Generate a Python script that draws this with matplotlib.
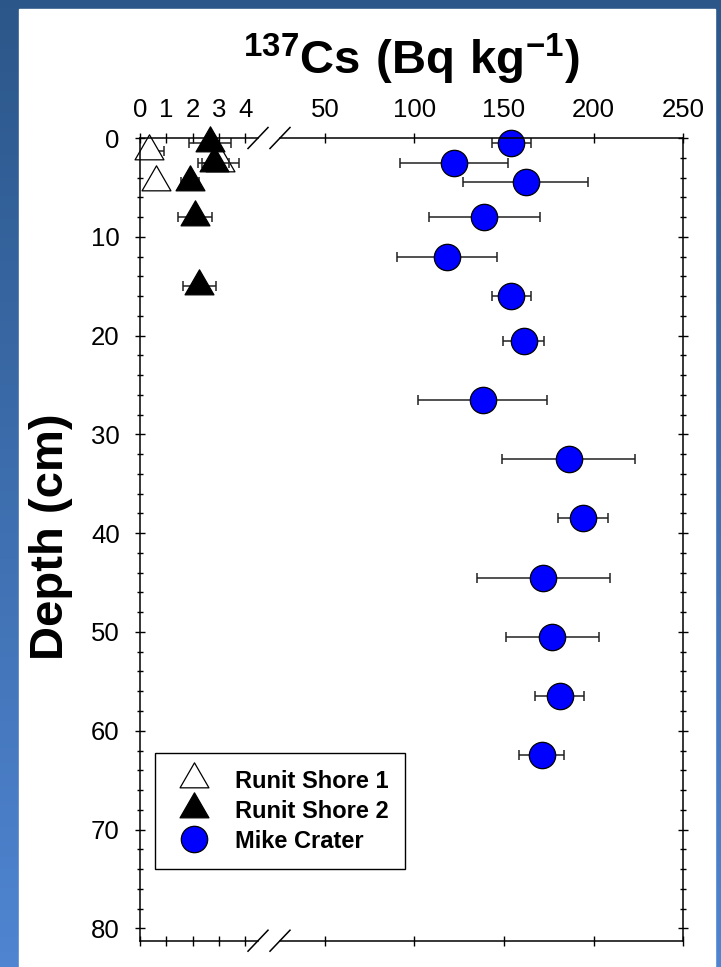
import numpy as np
import matplotlib.pyplot as plt
from matplotlib.lines import Line2D
from matplotlib.path import Path
from matplotlib.patches import Rectangle
from matplotlib.ticker import MultipleLocator

plt.rcParams['font.family'] = ['Liberation Sans', 'DejaVu Sans']
plt.rcParams['mathtext.fontset'] = 'custom'
plt.rcParams['mathtext.rm'] = 'Liberation Sans'
plt.rcParams['mathtext.bf'] = 'Liberation Sans:bold'

# values
# Runit Shore 1 (open triangles)
shore1_depth = [1.3, 2.5, 4.5]
shore1_cs = [0.35, 3.05, 0.6]
shore1_err = [0.55, 0.7, 0.07]

# Runit Shore 2 (black triangles)
shore2_depth = [0.5, 2.5, 4.5, 8, 15]
shore2_cs = [2.65, 2.8, 1.9, 2.1, 2.25]
shore2_err = [0.8, 0.6, 0.35, 0.65, 0.63]

# Mike Crater (blue circles)
mike_depth = [0.5, 2.5, 4.5, 8, 12, 16, 20.5, 26.5, 32.5, 38.5, 44.5, 50.5, 56.5, 62.5]
mike_cs = [154, 122, 162, 139, 118, 154, 161, 138, 186, 194, 172, 177, 181, 171]
mike_err = [11, 30, 35, 31, 28, 11, 11.5, 36, 37, 14, 37, 26, 13.5, 12.5]

low_ticks = [0, 1, 2, 3, 4]
high_ticks = [50, 100, 150, 200, 250]

W, H = 721, 967
fig = plt.figure(figsize=(W / 100, H / 100), dpi=100)

# blue backdrop with white panel
bg = fig.add_axes([0, 0, 1, 1], zorder=-10)
g = np.linspace(0, 1, 256)[:, None, None]
top_c = np.array([0.17, 0.34, 0.54])
bot_c = np.array([0.31, 0.52, 0.82])
bg.imshow(top_c + (bot_c - top_c) * g, aspect='auto', extent=[0, 1, 0, 1], origin='upper')
bg.add_patch(Rectangle((19 / W, 0), (715 - 19) / W, 1 - 9 / H, color='white'))
bg.set_xlim(0, 1)
bg.set_ylim(0, 1)
bg.axis('off')

y0, y1 = 138, 940.7
ax1 = fig.add_axes([140 / W, 1 - y1 / H, 118 / W, (y1 - y0) / H])
ax2 = fig.add_axes([280 / W, 1 - y1 / H, 403.3 / W, (y1 - y0) / H])

tri = Path([(0, 1), (-0.866, -0.5), (0.866, -0.5), (0, 1)], closed=True)
ebar = dict(fmt='none', ecolor='#222222', elinewidth=1.1, capsize=3.6, capthick=1.1)

ax1.errorbar(shore1_cs, shore1_depth, xerr=shore1_err, **ebar)
ax1.plot(shore1_cs, shore1_depth, ls='none', marker=tri, ms=24, mfc='white',
         mec='black', mew=0.9, clip_on=False)
ax1.errorbar(shore2_cs, shore2_depth, xerr=shore2_err, **ebar)
ax1.plot(shore2_cs, shore2_depth, ls='none', marker=tri, ms=24, mfc='black',
         mec='black', mew=0.9, clip_on=False)

ax2.errorbar(mike_cs, mike_depth, xerr=mike_err, **ebar)
ax2.plot(mike_cs, mike_depth, ls='none', marker='o', ms=19, mfc='#0000ff',
         mec='black', mew=0.9, clip_on=False)

ax1.set_xlim(0, 4.49)
ax1.set_xticks(low_ticks)
ax2.set_xlim(25, 250)
ax2.set_xticks(high_ticks)

for ax in (ax1, ax2):
    ax.set_facecolor('none')
    ax.set_ylim(81.25, 0)
    ax.yaxis.set_major_locator(MultipleLocator(10))
    ax.yaxis.set_minor_locator(MultipleLocator(2))
    ax.tick_params(which='major', direction='inout', length=7.2, width=1.0,
                   labelsize=18.5, top=True, bottom=True, labeltop=True,
                   labelbottom=False)
    ax.tick_params(axis='x', which='major', pad=8)
    ax.tick_params(which='minor', direction='inout', length=4.3, width=1.0)
    for s in ax.spines.values():
        s.set_linewidth(1.1)

ax1.spines['right'].set_visible(False)
ax1.tick_params(axis='y', which='both', left=True, right=False, labelleft=True, pad=11)
ax2.spines['left'].set_visible(False)
ax2.tick_params(axis='y', which='both', left=False, right=True, labelleft=False,
                labelright=False)

# axis break marks
for cx in (258, 280):
    for cy in (y0, y1):
        fig.add_artist(Line2D([(cx - 10) / W, (cx + 10) / W],
                              [1 - (cy + 10.5) / H, 1 - (cy - 10.5) / H],
                              color='black', lw=1.1))

fig.text(411.5 / W, 1 - 74 / H, r'$\mathbf{^{137}Cs\ (Bq\ kg^{-1})}$',
         ha='center', va='baseline', fontsize=34)
fig.text(51 / W, 1 - 537 / H, 'Depth (cm)', rotation=90, ha='center', va='center',
         fontsize=34, fontweight='bold')

handles = [
    Line2D([], [], ls='none', marker=tri, ms=24, mfc='white', mec='black', mew=0.9),
    Line2D([], [], ls='none', marker=tri, ms=24, mfc='black', mec='black', mew=0.9),
    Line2D([], [], ls='none', marker='o', ms=19, mfc='#0000ff', mec='black', mew=0.9),
]
labels = ['Runit Shore 1', 'Runit Shore 2', 'Mike Crater']
leg = fig.legend(handles, labels, loc='upper left', bbox_to_anchor=(155 / W, 1 - 753 / H),
                 prop={'weight': 'bold', 'size': 17}, frameon=True, fancybox=False,
                 edgecolor='black', framealpha=1, borderaxespad=0, borderpad=0.7,
                 labelspacing=0.3, handlelength=1.9, handletextpad=0.78)
leg.get_frame().set_linewidth(1.0)

fig.savefig('out.png', dpi=100)
